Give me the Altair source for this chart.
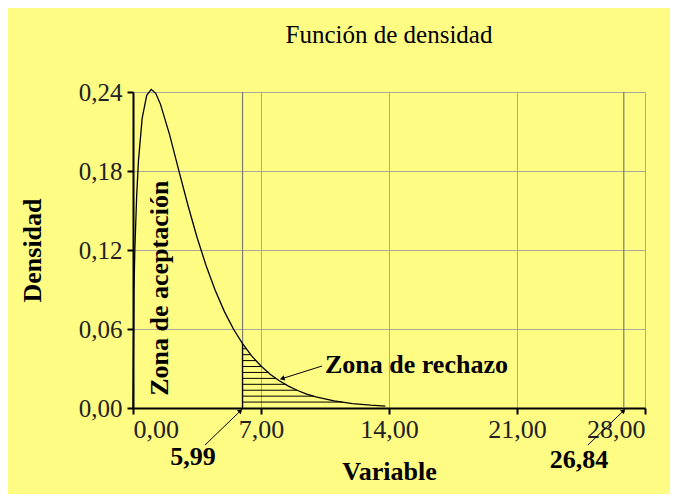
import altair as alt
import pandas as pd
import numpy as np

# Density curve
x_vals = [0, 0.05, 0.1, 0.2, 0.3, 0.5, 0.75, 1, 1.25, 1.5, 2, 2.5, 3, 3.5, 4, 4.5,
          5, 5.5, 5.99, 6.5, 7, 7.5, 8, 8.5, 9, 9.5, 10, 11, 12, 13, 13.8]
dens = [0, 0.087, 0.120, 0.161, 0.188, 0.220, 0.2375, 0.242, 0.2388, 0.2308, 0.2076,
        0.1807, 0.1542, 0.1297, 0.108, 0.0892, 0.0732, 0.0598, 0.0489, 0.0394, 0.0319,
        0.0257, 0.0207, 0.0166, 0.0133, 0.0106, 0.0085, 0.0054, 0.0034, 0.0022, 0.0015]

crit_lo = 5.99
crit_hi = 26.84
hatch_levels = [0.0045, 0.009, 0.0135, 0.018, 0.0225, 0.027, 0.0315, 0.036, 0.0405, 0.045]
x_ticks = [0, 7, 14, 21, 28]
y_ticks = [0, 0.06, 0.12, 0.18, 0.24]

SERIF = "Liberation Serif"
BG = "#FFFC84"

curve = pd.DataFrame({"x": x_vals, "y": dens})

# hatch lines: from critical value to the curve
xs = np.array(x_vals)
ys = np.array(dens)
mask = xs >= crit_lo
tail_x = xs[mask][::-1]
tail_y = ys[mask][::-1]
hatch = pd.DataFrame({
    "x": [crit_lo] * len(hatch_levels),
    "x2": np.interp(hatch_levels, tail_y, tail_x),
    "y": hatch_levels,
})
crit_y = float(np.interp(crit_lo, xs, ys))

lab_expr = "replace(format(datum.value, '.2f'), '.', ',')"

xscale = alt.Scale(domain=[0, 28], nice=False, zero=False)
yscale = alt.Scale(domain=[0, 0.24], nice=False)

line = alt.Chart(curve).mark_line(color="black", strokeWidth=1.3).encode(
    x=alt.X("x:Q", scale=xscale,
            axis=alt.Axis(values=x_ticks, labelExpr=lab_expr, title="Variable",
                          titlePadding=16, labelFontSize=26, labelPadding=2)),
    y=alt.Y("y:Q", scale=yscale,
            axis=alt.Axis(values=y_ticks, labelExpr=lab_expr, title="Densidad",
                          titlePadding=33, labelFontSize=25, labelPadding=5)),
)

hatch_layer = alt.Chart(hatch).mark_rule(color="black", strokeWidth=1).encode(
    x="x:Q", x2="x2:Q", y="y:Q")

vlines = alt.Chart(pd.DataFrame({"x": [crit_lo, crit_hi], "y": [0, 0], "y2": [0.24, 0.24]})).mark_rule(
    color="#7d7d70", strokeWidth=1.2).encode(x="x:Q", y="y:Q", y2="y2:Q")

crit_edge = alt.Chart(pd.DataFrame({"x": [crit_lo], "y": [0], "y2": [crit_y]})).mark_rule(
    color="black", strokeWidth=1.3).encode(x="x:Q", y="y:Q", y2="y2:Q")

rechazo = alt.Chart(pd.DataFrame({"x": [10.5], "y": [0.0327], "t": ["Zona de rechazo"]})).mark_text(
    font=SERIF, fontSize=26, fontWeight="bold", align="left", baseline="middle", color="black"
).encode(x="x:Q", y="y:Q", text="t:N")

crit_labels = alt.Chart(pd.DataFrame({"x": [3.28, 24.39], "y": [-0.0372, -0.0395],
                                      "t": ["5,99", "26,84"]})).mark_text(
    font=SERIF, fontSize=26, fontWeight="bold", align="center", baseline="middle", color="black"
).encode(x="x:Q", y="y:Q", text="t:N")

acept = alt.Chart(pd.DataFrame({"x": [1.48], "y": [0.091], "t": ["Zona de aceptación"]})).mark_text(
    font=SERIF, fontSize=26, fontWeight="bold", angle=270, align="center", baseline="middle",
    color="black").encode(x="x:Q", y="y:Q", text="t:N")

# arrows: start -> tip
arrows = pd.DataFrame({
    "x": [10.34, 3.94, 24.88],
    "y": [0.0319, -0.0281, -0.0281],
    "x2": [8.2, 5.85, 26.8],
    "y2": [0.0225, -0.0025, -0.0025],
    "ang": [255, 47, 47],
})
arrow_lines = alt.Chart(arrows).mark_rule(color="black", strokeWidth=1).encode(
    x="x:Q", y="y:Q", x2="x2:Q", y2="y2:Q")
arrow_heads = alt.Chart(arrows).mark_point(
    shape="triangle", filled=True, size=30, color="black", opacity=1).encode(
    x="x2:Q", y="y2:Q", angle=alt.Angle("ang:Q", scale=None))

chart = alt.layer(
    vlines, hatch_layer, crit_edge, line, acept, rechazo, crit_labels, arrow_lines, arrow_heads
).properties(
    width=512, height=316,
    title=alt.TitleParams("Función de densidad", font=SERIF, fontSize=25, fontWeight="normal",
                          color="black", anchor="middle", frame="group", offset=32),
    autosize=alt.AutoSizeParams(type="none"),
    padding={"left": 125, "top": 84, "right": 25, "bottom": 86},
).configure(background=BG).configure_view(stroke=None).configure_axis(
    domainColor="black", domainWidth=2, tickColor="black", tickWidth=2, tickSize=6,
    gridColor="#a9a99a", gridWidth=1, labelFont=SERIF, labelColor="#222",
    titleFont=SERIF, titleFontSize=26, titleFontWeight="bold", titleColor="black",
)

chart.save("out.html", embed_options={"renderer": "svg", "actions": False})
